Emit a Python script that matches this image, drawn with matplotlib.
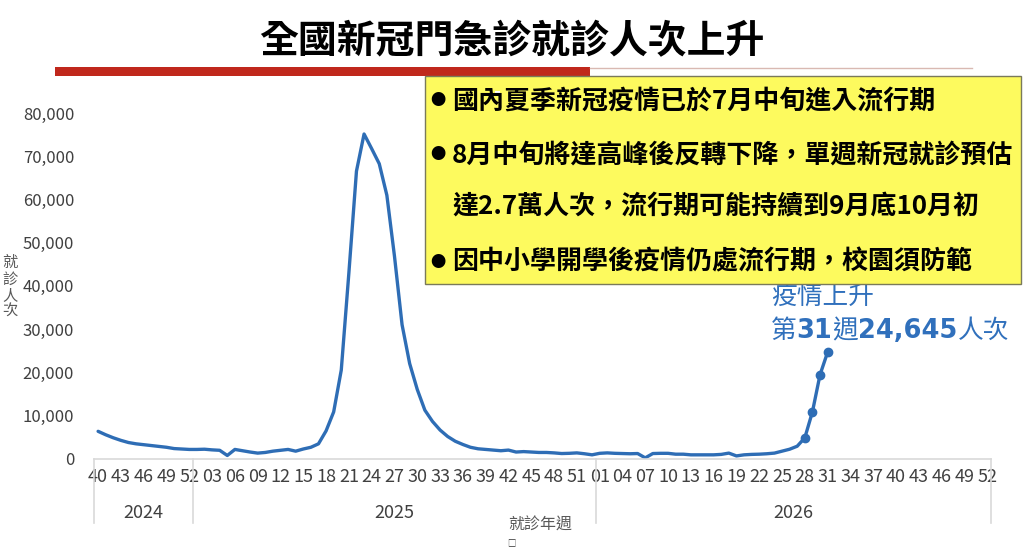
import numpy as np
import matplotlib.pyplot as plt
import matplotlib.transforms as mtransforms
from matplotlib.patches import Rectangle

plt.rcParams['font.family'] = ['Noto Sans CJK TC', 'DejaVu Sans']

# ---- data -------------------------------------------------------------
title = '全國新冠門急診就診人次上升'
year_labels = ['2024', '2025', '2026']
weeks_2024 = list(range(40, 53))
weeks_2025 = list(range(1, 54))
weeks_2026 = list(range(1, 53))
year_weeks = [weeks_2024, weeks_2025, weeks_2026]

# weekly visits, 2024 wk40 .. 2026 wk31
cases = [6300, 5500, 4800, 4200, 3700, 3400, 3200, 3000, 2800, 2600,
         2300, 2200, 2100, 2100, 2150, 2000, 1900, 700, 2100, 1800,
         1500, 1250, 1400, 1700, 1900, 2100, 1700, 2200, 2600, 3400,
         6400, 10800, 20500, 43000, 66600, 75200, 71800, 68300, 61000, 46900,
         31000, 22000, 16000, 11200, 8600, 6600, 5100, 4000, 3250, 2600,
         2250, 2100, 1950, 1800, 1950, 1500, 1600, 1500, 1400, 1400,
         1300, 1150, 1200, 1300, 1100, 850, 1200, 1300, 1200, 1150,
         1100, 1150, 150, 1150, 1200, 1200, 1000, 1000, 850, 850,
         850, 850, 950, 1250, 600, 850, 950, 1000, 1100, 1250,
         1700, 2150, 2850, 4800, 10800, 19400, 24645]
n_marked = 4

notes = ['國內夏季新冠疫情已於7月中旬進入流行期',
         '8月中旬將達高峰後反轉下降，單週新冠就診預估',
         '達2.7萬人次，流行期可能持續到9月底10月初',
         '因中小學開學後疫情仍處流行期，校園須防範']
note_bullets = [True, True, False, True]

y_ticks = [0, 10000, 20000, 30000, 40000, 50000, 60000, 70000, 80000]

BLUE = '#2E6DB5'
TXT_BLUE = '#3070BC'
GRAY = '#595959'

# ---- figure ----------------------------------------------------------
W, H = 1024, 547
fig = plt.figure(figsize=(W / 100, H / 100), dpi=100)


def fx(px):
    return px / W


def fy(py):
    return 1 - py / H


ax_top, ax_bot = 113.3, 458.5
ax = fig.add_axes([fx(94.3), fy(ax_bot), fx(991) - fx(94.3), (ax_bot - ax_top) / H])

cats = [w for ws in year_weeks for w in ws]
n_cat = len(cats)
x = np.arange(len(cases))
ax.plot(x, cases, color=BLUE, lw=2.4, solid_joinstyle='round', solid_capstyle='round')
ax.plot(x[-n_marked:], cases[-n_marked:], 'o', color=BLUE, ms=6)

ax.set_xlim(-0.5, n_cat - 0.5)
ax.set_ylim(0, 80000)
ax.set_yticks(y_ticks)
ax.set_yticklabels(['{:,}'.format(v) for v in y_ticks])
tick_idx = list(range(0, n_cat, 3))
ax.set_xticks(tick_idx)
ax.set_xticklabels(['%02d' % cats[i] for i in tick_idx])
ax.tick_params(axis='x', length=0, pad=6.5, labelsize=13, labelcolor='#404040')
ax.tick_params(axis='y', length=0, pad=14.5, labelsize=12, labelcolor='#404040')
for s in ['top', 'right', 'left']:
    ax.spines[s].set_visible(False)
ax.spines['bottom'].set_color('#D9D9D9')
ax.spines['bottom'].set_linewidth(1.2)

# second level of the category axis (years)
trans = mtransforms.blended_transform_factory(ax.transData, ax.transAxes)
bounds = np.cumsum([0] + [len(ws) for ws in year_weeks]) - 0.5
for b in bounds:
    ax.plot([b, b], [0, -0.186], transform=trans, clip_on=False,
            color='#D9D9D9', lw=1.2)
for i, lab in enumerate(year_labels):
    ax.text((bounds[i] + bounds[i + 1]) / 2, -0.157, lab, transform=trans,
            ha='center', va='center', fontsize=13, color='#404040')

fig.text(fx(540), fy(525), '就診年週', ha='center', va='center',
         fontsize=11.5, color=GRAY)
fig.text(fx(511), fy(543), '□', ha='center', va='center', fontsize=6, color='#333333')
fig.text(fx(10), fy(287), '就\n診\n人\n次', ha='center', va='center',
         fontsize=11, color=GRAY, linespacing=0.95)

# title and red rule
fig.text(0.5, fy(42), title, ha='center', va='center', fontsize=28,
         fontweight='heavy', color='black')
fig.add_artist(Rectangle((fx(55), fy(76)), fx(590) - fx(55), 9 / H,
                         transform=fig.transFigure, facecolor='#C0281C',
                         edgecolor='none'))
fig.add_artist(plt.Line2D([fx(590), fx(972)], [fy(68), fy(68)],
                          transform=fig.transFigure, color='#D9B9B2', lw=1))

# yellow note box
fig.add_artist(Rectangle((fx(425), fy(284)), fx(1021) - fx(425), (284 - 76) / H,
                         transform=fig.transFigure, facecolor='#FDFA5E',
                         edgecolor='#7A7A5A', lw=1, zorder=5))
fig.add_artist(Rectangle((fx(495), fy(96)), 5 / W, 5 / H, transform=fig.transFigure,
                         facecolor='white', edgecolor='none', zorder=6))
note_y = [101, 155, 207, 262]
for yy, txt, bul in zip(note_y, notes, note_bullets):
    if bul:
        fig.text(fx(438), fy(yy), '●', ha='center', va='center', fontsize=11,
                 color='black', zorder=6)
    fig.text(fx(452), fy(yy), txt, ha='left', va='center', fontsize=18.7,
             fontweight='heavy', color='black', zorder=6)

# annotation of the latest week
fig.text(fx(771), fy(298), '疫情上升', ha='left', va='center', fontsize=18.5,
         color=TXT_BLUE)
pieces = [('第', 'normal', 'Noto Sans CJK TC'), ('31', 'bold', 'DejaVu Sans'),
          ('週', 'normal', 'Noto Sans CJK TC'), ('24,645', 'bold', 'DejaVu Sans'),
          ('人次', 'normal', 'Noto Sans CJK TC')]
renderer = fig.canvas.get_renderer()
cx = 771
for txt, wt, fam in pieces:
    t = fig.text(fx(cx), fy(331), txt, ha='left', va='center', fontsize=18.5,
                 fontweight=wt, family=[fam, 'DejaVu Sans'], color=TXT_BLUE)
    cx += t.get_window_extent(renderer).width

fig.savefig('out.png', dpi=100)
